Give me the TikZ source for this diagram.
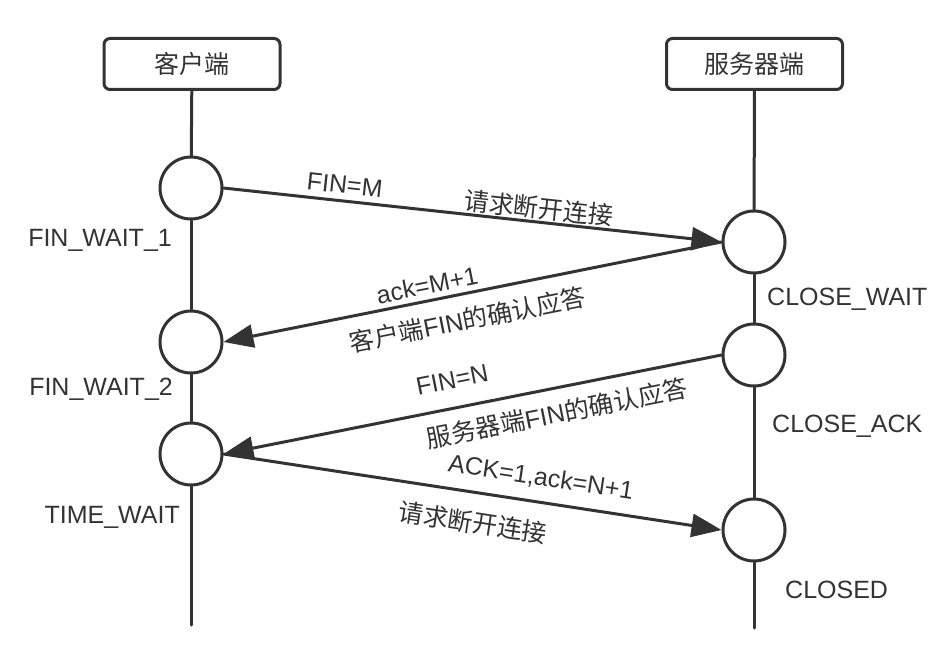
\documentclass[tikz,border=0pt]{standalone}
\usepackage{fontspec}
\setmainfont{Liberation Sans}
\newfontfamily\cjk{Noto Sans CJK SC}
\usepackage{tikz}
\usetikzlibrary{arrows.meta}
\definecolor{ink}{HTML}{333333}

\begin{document}
\begin{tikzpicture}[x=1pt,y=-1pt,>={Triangle[length=30pt,width=23pt]},
  font=\fontsize{25}{30}\selectfont,line cap=round,
  role/.style={draw=ink,line width=3pt,rounded corners=6pt,minimum width=176pt,minimum height=51pt,inner sep=0pt,text=ink},
  stat/.style={circle,draw=ink,line width=3pt,minimum size=62pt,inner sep=0pt},
  life/.style={draw=ink,line width=3pt},
  msg/.style={draw=ink,line width=3pt,->},
  lbl/.style={text=ink,inner sep=0pt}]
\useasboundingbox (0,0) rectangle (952,658);
\node[role] (cli) at (192,64) {\cjk 客户端};
\node[role] (srv) at (754.5,64) {\cjk 服务器端};
\node[stat] (c1) at (191,188) {};
\node[stat] (c2) at (191,342) {};
\node[stat] (c3) at (191,454) {};
\node[stat] (s1) at (754,242) {};
\node[stat] (s2) at (754,355) {};
\node[stat] (s3) at (754,530) {};
\coordinate (cend) at (191,625);
\coordinate (send) at (754,628);
\draw[life] (cli) -- (c1);
\draw[life] (c1) -- (c2);
\draw[life] (c2) -- (c3);
\draw[life] (c3) -- (cend);
\draw[life] (srv) -- (s1);
\draw[life] (s1) -- (s2);
\draw[life] (s2) -- (s3);
\draw[life] (s3) -- (send);
\draw[msg] (c1.east) -- (s1.west)
  node[lbl,sloped,pos=0.24,above=6pt] {FIN=M}
  node[lbl,sloped,pos=0.63,above=1pt] {\cjk 请求断开连接};
\draw[msg,<-] (c2.east) -- (s1.west)
  node[lbl,sloped,pos=0.415,above=5pt] {ack=M+1}
  node[lbl,sloped,pos=0.48,below=13pt] {{\cjk 客户端}FIN{\cjk 的确认应答}};
\draw[msg,<-] (c3.east) -- (s2.west)
  node[lbl,sloped,pos=0.47,above=18pt] {FIN=N}
  node[lbl,sloped,pos=0.66,below=12pt] {{\cjk 服务器端}FIN{\cjk 的确认应答}};
\draw[msg] (c3.east) -- (s3.west)
  node[lbl,sloped,pos=0.63,above=12pt] {ACK=1,ack=N+1}
  node[lbl,sloped,pos=0.51,below=17pt] {\cjk 请求断开连接};
\node[lbl,anchor=base east] (w1) at (172,246) {FIN\_WAIT\_1};
\node[lbl,anchor=base east] (w2) at (173,395) {FIN\_WAIT\_2};
\node[lbl,anchor=base east] (tw) at (180,523) {TIME\_WAIT};
\node[lbl,anchor=base west] (cw) at (767,305) {CLOSE\_WAIT};
\node[lbl,anchor=base west] (ca) at (772,432) {CLOSE\_ACK};
\node[lbl,anchor=base west] (cd) at (785,598) {CLOSED};
\end{tikzpicture}
\end{document}
